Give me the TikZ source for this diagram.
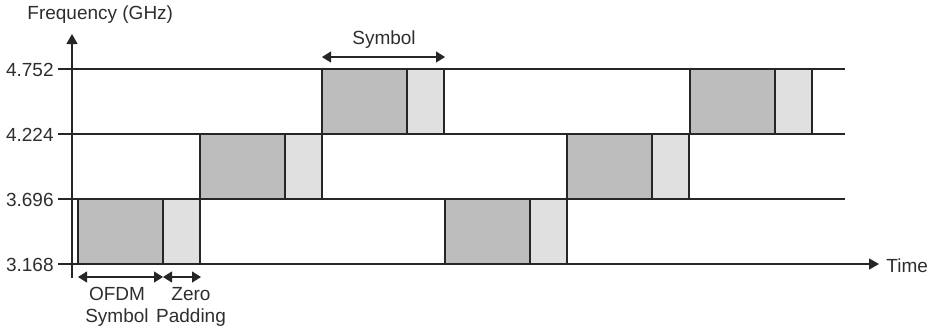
\documentclass[tikz,border=0pt]{standalone}
\usepackage{fontspec}
\setmainfont{Liberation Sans}
\usetikzlibrary{arrows.meta}
\definecolor{ofdmfill}{HTML}{BDBDBD}
\definecolor{zpfill}{HTML}{E0E0E0}
\definecolor{inkline}{HTML}{262626}
\definecolor{inktext}{HTML}{2E2E2E}
\tikzset{
  ofdmblk/.style={fill=ofdmfill, draw=inkline, line width=0.6pt},
  zpblk/.style={fill=zpfill, draw=inkline, line width=0.6pt},
  gridln/.style={draw=inkline, line width=0.65pt},
  axisln/.style={draw=inkline, line width=0.65pt, -{Triangle[length=5pt,width=5.5pt]}},
  spanarr/.style={draw=inkline, line width=0.55pt, {Triangle[length=4.5pt,width=5.5pt]}-{Triangle[length=4.5pt,width=5.5pt]}},
  lbl/.style={text=inktext, font=\fontsize{9.5}{10.5}\selectfont, inner sep=0pt},
  ticklbl/.style={lbl, anchor=east},
}
\begin{document}
\begin{tikzpicture}[x=0.5pt, y=-0.5pt]
  \useasboundingbox (0,0) rectangle (935,329);

  % hopping pattern: OFDM symbol followed by zero padding
  \foreach \n/\xs/\ytop/\ybot in {1/78/199/264, 2/200/134/199, 3/322/69/134,
                                  4/445/199/264, 5/567/134/199, 6/690/69/134}{
    \draw[ofdmblk] (\xs,\ytop) rectangle ({\xs+85},\ybot);
    \draw[zpblk] ({\xs+85},\ytop) rectangle ({\xs+122},\ybot);
  }

  % band edges
  \coordinate (g1a) at (58,69);  \coordinate (g1b) at (845,69);
  \coordinate (g2a) at (58,134); \coordinate (g2b) at (845,134);
  \coordinate (g3a) at (58,199); \coordinate (g3b) at (845,199);
  \draw[gridln] (g1a) -- (g1b);
  \draw[gridln] (g2a) -- (g2b);
  \draw[gridln] (g3a) -- (g3b);

  % axes
  \coordinate (ta) at (58,264);  \coordinate (tb) at (879,264);
  \coordinate (fa) at (72,278);  \coordinate (fb) at (72,34);
  \draw[axisln] (ta) -- (tb);
  \draw[axisln] (fa) -- (fb);

  % labels
  \node[lbl, anchor=west] (flab) at (27,15) {Frequency (GHz)};
  \node[lbl, anchor=west] (tlab) at (886,266) {Time};
  \node[ticklbl] (f4) at (54,70)  {4.752};
  \node[ticklbl] (f3) at (54,135) {4.224};
  \node[ticklbl] (f2) at (54,200) {3.696};
  \node[ticklbl] (f1) at (54,265) {3.168};

  % symbol span above the third hop
  \coordinate (sy1) at (322,57); \coordinate (sy2) at (445,57);
  \draw[spanarr] (sy1) -- (sy2);
  \node[lbl] (symlab) at (384,40) {Symbol};

  % OFDM symbol / zero padding spans below the first hop
  \coordinate (o1) at (78,277);  \coordinate (o2) at (163,277);
  \coordinate (z1) at (163,277); \coordinate (z2) at (201,277);
  \draw[spanarr] (o1) -- (o2);
  \draw[spanarr] (z1) -- (z2);
  \node[lbl, align=center] (ofdmlab) at (117,307) {OFDM\\[0.5pt]Symbol};
  \node[lbl, align=center] (zplab) at (191,307) {Zero\\[0.5pt]Padding};
\end{tikzpicture}
\end{document}
